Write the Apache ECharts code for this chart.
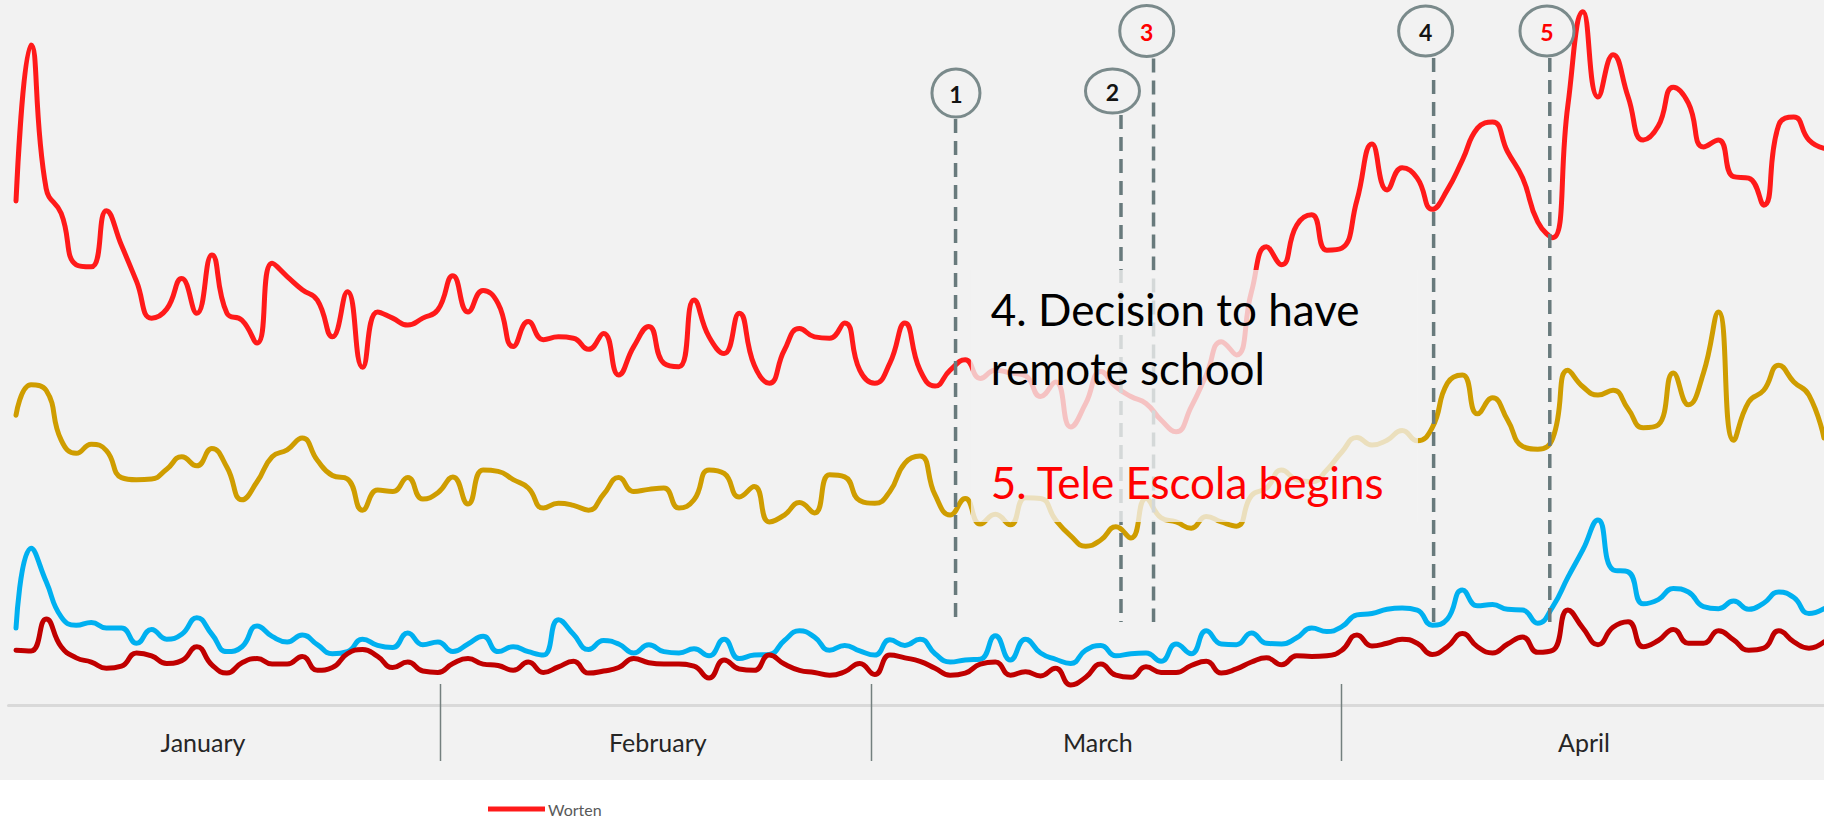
<!DOCTYPE html>
<html>
<head>
<meta charset="utf-8">
<script src="https://cdn.jsdelivr.net/npm/echarts@6/dist/echarts.min.js"></script>
<style>
html,body{margin:0;padding:0;background:#ffffff;}
#chart{width:1824px;height:820px;}
</style>
</head>
<body>
<div id="chart"></div>
<script>
// ---- data (daily index 0..120) ----
const months = ['January', 'February', 'March', 'April'];
const monthCenters = [12.41, 42.6, 71.8, 104.07];
const monthSeparators = [28.14, 56.75, 87.94];

const worten = [72.7,95.2,74.5,70.9,63.5,63.2,71.3,66.3,61.1,55.8,57.1,61.5,56.5,64.9,56.5,55.5,52.2,63.7,61.8,59.9,
58.4,53.1,59.6,48.7,56.7,55.8,54.8,55.8,57.0,61.9,56.7,59.8,57.9,51.7,55.3,52.7,53.1,52.9,51.3,53.6,
47.6,51.7,54.6,49.3,48.8,58.4,53.1,50.7,56.5,49.0,46.4,51.2,54.3,53.1,52.9,55.1,48.3,46.4,49.3,55.1,
48.3,46.0,48.3,49.8,47.1,48.3,47.9,47.5,44.5,46.6,40.1,43.5,48.1,45.9,44.5,43.5,41.1,39.4,43.0,47.6,
52.4,50.5,59.6,66.1,63.5,69.2,70.7,65.6,65.9,72.8,80.9,74.3,77.5,76.0,71.5,74.3,78.6,83.2,84.1,79.8,
76.0,69.7,67.4,86.5,100,87.7,93.8,87.7,81.5,83.5,89.1,86.8,80.5,81.5,76.2,76.0,72.1,83.7,84.8,81.5,80.3];

const goldSeries = [41.8,46.2,45.4,38.2,36.3,37.6,36.7,32.8,32.5,32.6,34.0,35.8,34.5,37.0,34.3,29.6,32.2,35.8,36.8,38.5,
35.3,33.1,32.6,28.1,31.0,30.8,32.8,29.7,30.6,32.9,29.0,33.9,33.7,32.5,31.3,28.4,29.1,28.8,28.1,30.4,
32.8,30.8,31.1,31.3,28.4,29.6,33.9,33.4,30.0,31.5,26.4,27.4,29.2,27.7,33.2,32.9,29.5,29.1,30.8,34.9,
35.9,30.3,27.4,29.8,26.1,27.5,26.0,29.9,29.8,26.7,24.4,22.9,23.8,25.7,24.1,29.8,27.0,26.4,25.5,27.2,
26.4,25.8,30.2,31.3,33.9,32.5,32.2,33.9,36.5,38.6,37.5,38.2,39.6,38.1,40.0,46.4,47.6,42.0,44.3,41.1,
37.3,36.9,38.5,48.3,45.9,44.7,45.4,42.7,40.0,40.4,47.9,43.3,47.9,56.7,38.2,43.7,45.4,49.0,46.6,44.7,38.5];

const blueSeries = [11.1,22.6,17.8,12.7,11.5,11.9,11.1,11.1,8.9,10.9,9.5,10.2,12.6,10.2,7.7,8.4,11.4,9.9,9.1,10.1,
8.7,7.4,7.7,9.5,8.6,8.3,10.4,8.7,9.1,7.7,8.8,9.9,7.7,8.4,7.7,7.2,12.3,10.2,8.0,9.3,
8.8,7.5,8.7,7.7,7.5,8.1,7.1,9.5,6.7,7.2,7.3,9.3,10.7,9.8,7.9,8.6,7.8,7.2,9.4,8.6,
9.5,7.4,6.2,6.5,6.6,10.0,6.5,9.5,7.5,6.6,6.0,7.9,8.6,7.1,7.4,7.5,6.3,8.8,7.4,10.7,
8.8,8.7,10.4,8.9,8.8,9.7,11.1,10.6,11.3,13.0,13.2,13.8,14.0,13.7,11.5,12.4,16.6,14.3,14.5,13.8,
13.7,11.8,14.2,18.4,22.4,26.7,19.5,19.2,14.6,15.2,16.8,16.3,14.2,13.9,15.0,13.8,14.7,16.3,15.5,13.2,13.9];

const darkRedSeries = [7.9,7.8,12.4,8.4,6.8,6.2,5.3,5.6,7.5,7.1,6.0,6.4,8.4,5.8,4.6,6.1,6.7,5.9,5.9,7.0,
5.0,5.4,7.4,8.0,7.0,5.4,6.2,4.9,4.7,6.0,6.7,5.9,5.7,5.0,6.2,4.7,5.5,6.3,4.6,4.9,
5.4,6.7,6.1,5.9,5.9,5.6,3.9,6.5,5.2,5.0,7.2,5.9,5.0,4.7,4.3,4.8,6.0,4.4,7.2,6.8,
6.3,5.3,4.3,4.6,5.9,6.2,4.3,4.8,4.2,5.3,2.9,4.0,5.9,4.3,4.0,5.5,4.7,4.7,5.7,6.3,
4.6,5.2,6.2,6.8,5.8,7.1,7.0,7.1,7.9,10.1,8.5,8.9,9.5,8.9,7.3,8.4,10.3,8.4,7.5,8.8,
9.8,7.6,7.9,13.7,11.1,8.7,11.2,12.0,8.4,9.3,10.9,8.9,8.9,10.7,9.4,7.9,8.2,10.7,9.1,8.2,9.1];

// events
const eventNums = ['1', '2', '3', '4', '5'];
const eventDay = [62.36, 73.34, 75.50, 94.09, 101.80];
const eventText1 = ['4. Decision to have', 'remote school'];
const eventText2 = '5. Tele Escola begins';

// ---- chart ----
const chart = echarts.init(document.getElementById('chart'), null, {renderer: 'svg', width: 1824, height: 820});
const FONT = 'Lato, "Open Sans", sans-serif';

function pts(arr) { return arr.map((v, i) => [i, v]); }
function lineSeries(name, arr, color) {
  return {
    name: name, type: 'line', data: pts(arr), smooth: 0.5, showSymbol: false, clip: false,
    lineStyle: {color: color, width: 5, cap: 'round', join: 'round'},
    itemStyle: {color: color},
    emphasis: {disabled: true}, silent: true
  };
}

chart.setOption({
  backgroundColor: '#ffffff',
  animation: false,
  grid: {left: 8.47, right: 0, top: 11.7, bottom: 115, outerBoundsMode: 'none', containLabel: false},
  legend: {
    data: ['Worten'], left: 488, top: 800, icon: 'rect', itemWidth: 57, itemHeight: 5, itemGap: 10,
    padding: 0,
    textStyle: {fontFamily: FONT, fontSize: 16, lineHeight: 18, color: '#595959', padding: [0, 0, 0, -2]},
    selectedMode: false
  },
  xAxis: {
    type: 'value', min: -0.5, max: 120,
    axisLine: {show: true, lineStyle: {color: '#d9d9d9', width: 3}},
    axisTick: {show: false}, splitLine: {show: false},
    axisLabel: {
      customValues: monthCenters,
      formatter: function (v) {
        let best = 0;
        for (let k = 1; k < monthCenters.length; k++) {
          if (Math.abs(monthCenters[k] - v) < Math.abs(monthCenters[best] - v)) best = k;
        }
        return months[best];
      },
      margin: 24, fontSize: 25, color: '#262626', fontFamily: FONT
    }
  },
  yAxis: {type: 'value', min: 0, max: 100, show: false},
  series: [
    lineSeries('Series 4', blueSeries, '#00b0f0'),
    lineSeries('Series 3', darkRedSeries, '#c00000'),
    lineSeries('Series 2', goldSeries, '#cf9d00'),
    lineSeries('Worten', worten, '#ff1a1a')
  ]
});

// ---- annotations (anchored on the x scale) ----
function xpx(d) { return chart.convertToPixel({gridIndex: 0}, [d, 0])[0]; }
const circleDx = [0.4, -8.5, -6.8, -8, -2.8];
const circleY = [93, 91, 31, 31, 31];
const circleRx = [24, 27, 27, 27, 27];
const circleRy = [24, 22, 25.5, 25, 25];
const numColor = ['#141414', '#141414', '#ff0000', '#141414', '#ff0000'];

const g = [];
g.push({type: 'rect', z: -10, silent: true, shape: {x: 0, y: 0, width: 1824, height: 780}, style: {fill: '#f2f2f2'}});
monthSeparators.forEach(function (d) {
  const x = Math.round(xpx(d)) + 0.5;
  g.push({type: 'line', z: 1, silent: true, shape: {x1: x, y1: 684, x2: x, y2: 761}, style: {stroke: '#74807f', lineWidth: 1.5}});
});
eventDay.forEach(function (d, k) {
  const x = xpx(d);
  const cx = x + circleDx[k];
  g.push({type: 'line', z: 40, silent: true, shape: {x1: x, y1: circleY[k] + circleRy[k] + 2, x2: x, y2: 622},
    style: {stroke: '#687a7c', lineWidth: 3.5, lineDash: [14, 8]}});
  g.push({type: 'ellipse', z: 40, silent: true, shape: {cx: cx, cy: circleY[k], rx: circleRx[k], ry: circleRy[k]},
    style: {fill: 'rgba(0,0,0,0)', stroke: '#7a8a8b', lineWidth: 3}});
  g.push({type: 'text', z: 41, silent: true, style: {x: cx, y: circleY[k] + 1, text: eventNums[k], fill: numColor[k],
    font: 'bold 23px ' + FONT, align: 'center', verticalAlign: 'middle'}});
});
// translucent text box
const bx1 = xpx(63.38), bx2 = xpx(93.05);
g.push({type: 'rect', z: 50, silent: true, shape: {x: bx1, y: 270, width: bx2 - bx1, height: 252}, style: {fill: 'rgba(242,242,242,0.78)'}});
const tx = xpx(64.7);
g.push({type: 'text', z: 60, silent: true, style: {x: tx, y: 309, text: eventText1[0], fill: '#000000', font: '44px ' + FONT, align: 'left', verticalAlign: 'middle'}});
g.push({type: 'text', z: 60, silent: true, style: {x: tx, y: 368, text: eventText1[1], fill: '#000000', font: '44px ' + FONT, align: 'left', verticalAlign: 'middle'}});
g.push({type: 'text', z: 60, silent: true, style: {x: tx, y: 482, text: eventText2, fill: '#ff0000', font: '44px ' + FONT, align: 'left', verticalAlign: 'middle'}});

chart.setOption({graphic: {elements: g}});
</script>
</body>
</html>
